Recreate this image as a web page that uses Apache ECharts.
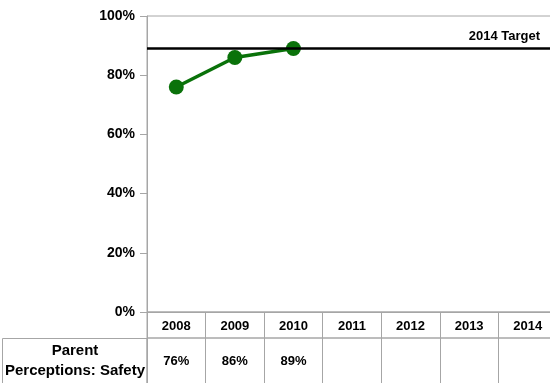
<!DOCTYPE html>
<html>
<head>
<meta charset="utf-8">
<title>Parent Perceptions: Safety</title>
<script src="https://cdn.jsdelivr.net/npm/echarts@6/dist/echarts.min.js"></script>
<style>
  html, body { margin: 0; padding: 0; background: #fff; }
  #chart { width: 550px; height: 383px; }
</style>
</head>
<body>
<div id="chart"></div>
<script>
// School years shown along the axis and in the data table
const years = ['2008', '2009', '2010', '2011', '2012', '2013', '2014'];
// Percent of parents reporting they feel their child is safe (null = not yet measured)
const safety = [76, 86, 89, null, null, null, null];
// Goal to reach by 2014
const target = 89;
const targetLabel = '2014 Target';
const rowLabel = 'Parent\nPerceptions: Safety';
// Y axis ticks
const yMin = 0, yMax = 100, yStep = 20;

const FONT = '"Liberation Sans", Arial, sans-serif';
const GRAY = '#a6a6a6';
const GREEN = '#0a720a';

// The last table column runs a little past the right edge of the page
const PLOT_LEFT = 147, PLOT_WIDTH = 410;

const chart = echarts.init(document.getElementById('chart'), null, { renderer: 'canvas' });

const tableCell = (v) => (v == null ? '' : Math.round(v) + '%');

const gridBase = {
  left: PLOT_LEFT, width: PLOT_WIDTH, show: true,
  borderColor: GRAY, borderWidth: 1, outerBoundsMode: 'none', containLabel: false
};

chart.setOption({
  animation: false,
  backgroundColor: '#fff',
  grid: [
    // plot area
    Object.assign({ top: 16, height: 296 }, gridBase),
    // table header row (years)
    Object.assign({ top: 312, height: 26 }, gridBase),
    // table value row
    Object.assign({ top: 338, height: 60 }, gridBase)
  ],
  xAxis: [
    {
      type: 'category', gridIndex: 0, data: years, boundaryGap: true,
      axisLine: { lineStyle: { color: GRAY, width: 1 } },
      axisTick: { show: false },
      axisLabel: { color: '#000', fontFamily: FONT, fontWeight: 'bold', fontSize: 13, margin: 8 },
      splitLine: { show: false }
    },
    {
      type: 'category', gridIndex: 1, data: years, boundaryGap: true,
      axisLine: { show: false }, axisTick: { show: false }, axisLabel: { show: false },
      splitLine: { show: true, lineStyle: { color: GRAY, width: 1 } }
    },
    {
      type: 'category', gridIndex: 2, data: years, boundaryGap: true, position: 'top',
      axisLine: { show: false }, axisTick: { show: false },
      axisLabel: {
        inside: true, margin: 17, color: '#000', fontFamily: FONT, fontWeight: 'bold', fontSize: 13,
        formatter: (v, i) => tableCell(safety[i])
      },
      splitLine: { show: true, lineStyle: { color: GRAY, width: 1 } }
    }
  ],
  yAxis: [
    {
      type: 'value', gridIndex: 0, min: yMin, max: yMax, interval: yStep,
      axisLine: { show: true, lineStyle: { color: GRAY, width: 1 } },
      axisTick: { show: true, length: 7, lineStyle: { color: GRAY } },
      axisLabel: { color: '#000', fontFamily: FONT, fontWeight: 'bold', fontSize: 14, margin: 12, formatter: '{value}%' },
      splitLine: { show: false }
    },
    { type: 'value', gridIndex: 1, show: false },
    { type: 'value', gridIndex: 2, show: false }
  ],
  series: [
    {
      name: 'Parent Perceptions: Safety',
      type: 'line', xAxisIndex: 0, yAxisIndex: 0,
      data: safety,
      symbol: 'circle', symbolSize: 15,
      lineStyle: { color: GREEN, width: 3.5 },
      itemStyle: { color: GREEN },
      z: 3,
      markLine: {
        silent: true, symbol: 'none',
        lineStyle: { color: '#000', width: 2.5, type: 'solid' },
        label: {
          show: true, position: 'insideEndTop', formatter: targetLabel,
          color: '#000', fontFamily: FONT, fontWeight: 'bold', fontSize: 13, distance: [17, 6]
        },
        data: [{ yAxis: target }]
      }
    }
  ],
  graphic: [
    {
      type: 'rect', shape: { x: 2.5, y: 338.5, width: 144.5, height: 60 },
      style: { fill: 'none', stroke: GRAY, lineWidth: 1 }
    },
    {
      type: 'text', x: 75, y: 361,
      style: {
        text: rowLabel, align: 'center', verticalAlign: 'middle', lineHeight: 20,
        font: 'bold 15px ' + FONT, fill: '#000'
      }
    }
  ]
});
</script>
</body>
</html>
